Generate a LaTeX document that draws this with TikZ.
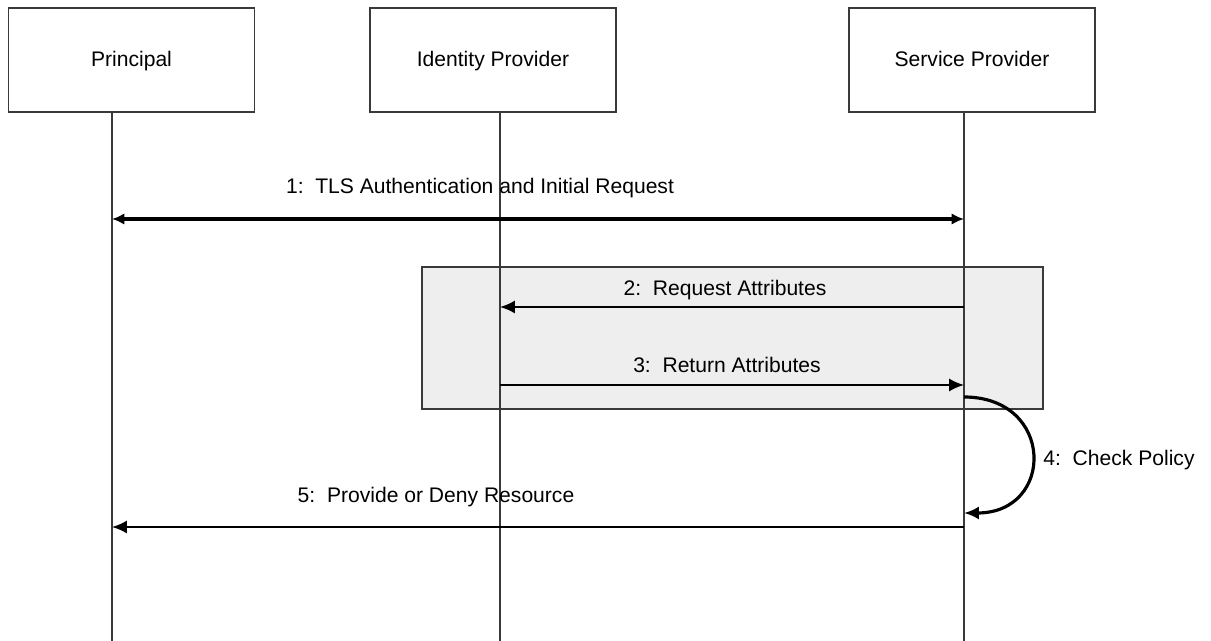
\documentclass[tikz,border=0pt]{standalone}
\usepackage{fontspec}
\setmainfont{Liberation Sans}
\usetikzlibrary{arrows.meta}
\definecolor{lifegray}{HTML}{3A3A3A}
\definecolor{shade}{HTML}{EEEEEE}

\begin{document}
\begin{tikzpicture}[x=0.02cm, y=-0.02cm,
        actor/.style={draw=lifegray, line width=0.7pt, minimum width=4.92cm, minimum height=2.08cm, text height=1.7ex, text depth=0.4ex, font=\fontsize{12}{14}\selectfont},
        lbl/.style={font=\fontsize{12}{14}\selectfont, inner sep=1pt},
        life/.style={draw=lifegray, line width=0.7pt},
        msg/.style={line width=1.2pt, -{Latex[length=8.5pt, width=7.5pt]}},
        bigmsg/.style={line width=2.4pt, {Latex[length=7pt, width=6.5pt]}-{Latex[length=7pt, width=6.5pt]}}]
        \useasboundingbox (0, 0) rectangle (1211, 641);

        % grey frame round steps 2 and 3
        \draw[fill=shade, draw=lifegray, line width=0.7pt] (422, 267) rectangle (1043, 409);

        \node[actor] (principal) at (131.5, 60) {Principal};
        \node[actor] (idp) at (493, 60) {Identity Provider};
        \node[actor] (sp) at (972, 60) {Service Provider};

        \coordinate (pTop) at (112, 112);
        \coordinate (iTop) at (500, 112);
        \coordinate (sTop) at (964, 112);
        \coordinate (pEnd) at (112, 641);
        \coordinate (iEnd) at (500, 641);
        \coordinate (sEnd) at (964, 641);
        \draw[life] (pTop) -- (pEnd);
        \draw[life] (iTop) -- (iEnd);
        \draw[life] (sTop) -- (sEnd);

        \coordinate (p1) at (112, 219);
        \coordinate (s1) at (964, 219);
        \coordinate (s2) at (964, 307);
        \coordinate (i2) at (500, 307);
        \coordinate (i3) at (500, 385);
        \coordinate (s3) at (964, 385);
        \coordinate (s4a) at (964, 397);
        \coordinate (s4b) at (964, 513);
        \coordinate (s5) at (964, 527);
        \coordinate (p5) at (112, 527);

        \draw[bigmsg] (p1) -- (s1);
        \draw[msg] (s2) -- (i2);
        \draw[msg] (i3) -- (s3);
        \draw[msg, line width=1.8pt] (s4a) .. controls (1055, 397) and (1055, 513) .. (s4b);
        \draw[msg] (s5) -- (p5);

        \node[lbl] (m1) at (480, 188) {1:\ \ TLS Authentication and Initial Request};
        \node[lbl] (m2) at (725, 290) {2:\ \ Request Attributes};
        \node[lbl] (m3) at (727, 365) {3:\ \ Return Attributes};
        \node[lbl] (m4) at (1119, 460) {4:\ \ Check Policy};
        \node[lbl] (m5) at (436, 497) {5:\ \ Provide or Deny Resource};
    \end{tikzpicture}
\end{document}
